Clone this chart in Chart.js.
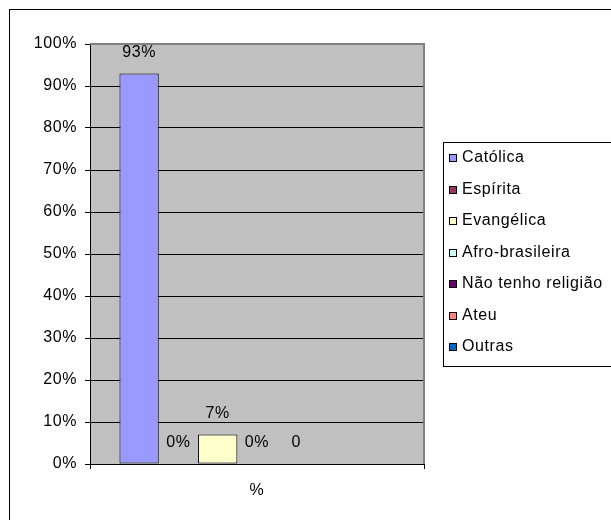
<!DOCTYPE html>
<html>
<head>
<meta charset="utf-8">
<script src="https://cdn.jsdelivr.net/npm/chart.js@4"></script>
<style>
  html, body { margin: 0; padding: 0; background: #fff; }
  #wrap { width: 611px; height: 520px; }
</style>
</head>
<body>
<div id="wrap"><canvas id="chart" width="611" height="520"></canvas></div>
<script>
// religião dos entrevistados
const categories = ['%'];
const religions = ['Católica', 'Espírita', 'Evangélica', 'Afro-brasileira', 'Não tenho religião', 'Ateu', 'Outras'];
const values = [93, 0, 7, 0, 0, null, null];
const suffixes = ['%', '%', '%', '%', '', '', ''];
const colors = ['#9999FF', '#993366', '#FFFFCC', '#CCFFFF', '#660066', '#FF8080', '#0066CC'];
const yTicks = [0, 10, 20, 30, 40, 50, 60, 70, 80, 90, 100];

const FONT = "'Liberation Sans', Arial, sans-serif";
const SPACING = '0.6px';

const datasets = religions.map((name, i) => ({
  label: name,
  data: [values[i]],
  backgroundColor: colors[i],
  borderColor: '#000',
  borderWidth: 1,
  borderSkipped: false,
  categoryPercentage: 7 / 8.5,
  barPercentage: 1
}));

// letter spacing to get the wide office look
const spacing = {
  id: 'spacing',
  beforeInit(chart){ chart.ctx.letterSpacing = SPACING; },
  beforeLayout(chart){ chart.ctx.letterSpacing = SPACING; },
  beforeDraw(chart){ chart.ctx.letterSpacing = SPACING; }
};

// outer frame + gray plot background
const frame = {
  id: 'frame',
  beforeDraw(chart){
    const ctx = chart.ctx, a = chart.chartArea;
    ctx.save();
    ctx.fillStyle = '#fff';
    ctx.fillRect(0, 0, chart.width, chart.height);
    ctx.strokeStyle = '#000';
    ctx.lineWidth = 1;
    ctx.strokeRect(9.5, 9.5, 800, 700);
    ctx.fillStyle = '#C0C0C0';
    ctx.fillRect(a.left, a.top, a.right - a.left, a.bottom - a.top);
    ctx.restore();
  },
  beforeDatasetsDraw(chart){
    const ctx = chart.ctx, a = chart.chartArea;
    ctx.save();
    ctx.strokeStyle = '#808080';
    ctx.lineWidth = 2;
    ctx.beginPath();
    ctx.moveTo(a.left, a.top);
    ctx.lineTo(a.right, a.top);
    ctx.lineTo(a.right, a.bottom);
    ctx.stroke();
    ctx.restore();
  }
};

// value labels above each bar
const barLabels = {
  id: 'barLabels',
  afterDatasetsDraw(chart){
    const ctx = chart.ctx;
    ctx.save();
    ctx.letterSpacing = SPACING;
    ctx.font = '16px ' + FONT;
    ctx.fillStyle = '#000';
    ctx.textAlign = 'center';
    ctx.textBaseline = 'middle';
    chart.data.datasets.forEach((ds, i) => {
      const meta = chart.getDatasetMeta(i);
      meta.data.forEach((el, j) => {
        const v = ds.data[j];
        if (v === null) return;
        ctx.fillText(v + suffixes[i], el.x, el.y - 21);
      });
    });
    ctx.restore();
  }
};

// boxed legend on the right
const sideLegend = {
  id: 'sideLegend',
  afterDraw(chart){
    const ctx = chart.ctx;
    const left = 443, top = 142, step = 31.5, first = 158;
    ctx.save();
    ctx.letterSpacing = SPACING;
    ctx.strokeStyle = '#000';
    ctx.lineWidth = 1;
    ctx.strokeRect(left + 0.5, top + 0.5, 300, 224);
    ctx.font = '16px ' + FONT;
    ctx.textBaseline = 'middle';
    ctx.textAlign = 'left';
    chart.data.datasets.forEach((ds, i) => {
      const y = first + i * step;
      ctx.fillStyle = ds.backgroundColor;
      ctx.fillRect(449, Math.round(y - 4), 8, 8);
      ctx.strokeRect(449.5, Math.round(y - 4) + 0.5, 7, 7);
      ctx.fillStyle = '#000';
      ctx.fillText(ds.label, 462, y);
    });
    ctx.restore();
  }
};

new Chart(document.getElementById('chart'), {
  type: 'bar',
  data: { labels: categories, datasets },
  plugins: [spacing, frame, barLabels, sideLegend],
  options: {
    responsive: false,
    animation: false,
    layout: { padding: { top: 44, right: 187, left: 0, bottom: 0 } },
    plugins: { legend: { display: false }, tooltip: { enabled: false } },
    scales: {
      x: {
        offset: true,
        grid: { offset: true, drawOnChartArea: false, tickLength: 5, color: '#000' },
        border: { color: '#000', width: 1 },
        ticks: { color: '#000', padding: 12, font: { family: FONT, size: 16 } },
        afterFit(scale){ scale.height = 56; }
      },
      y: {
        min: 0,
        max: 100,
        afterBuildTicks(scale){ scale.ticks = yTicks.map(v => ({ value: v })); },
        grid: {
          color: ctx => ctx.tick && ctx.tick.value === 100 ? '#808080' : '#000',
          tickColor: '#000',
          tickLength: 5
        },
        border: { color: '#000', width: 1 },
        ticks: {
          color: '#000',
          padding: 8,
          font: { family: FONT, size: 16 },
          callback: v => v + '%'
        },
        afterFit(scale){ scale.width = 90; }
      }
    }
  }
});
</script>
</body>
</html>
